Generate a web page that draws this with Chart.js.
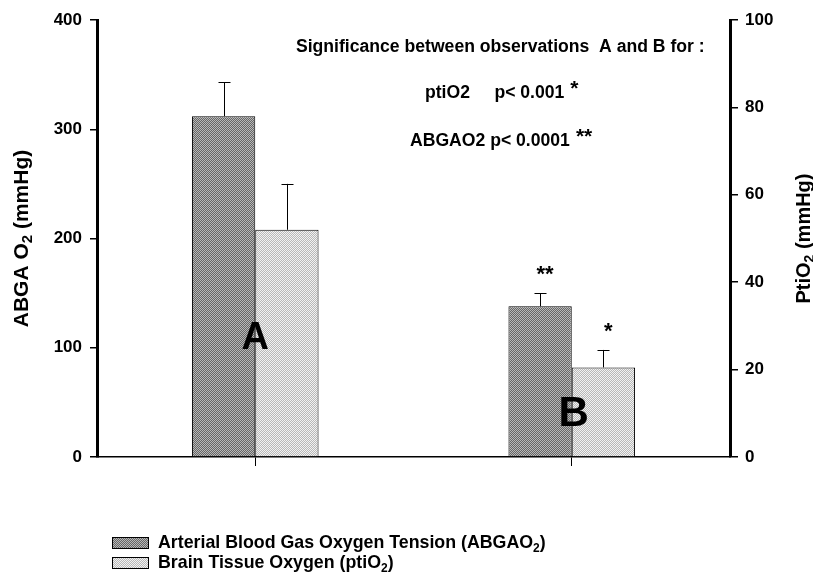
<!DOCTYPE html>
<html>
<head>
<meta charset="utf-8">
<script src="https://cdn.jsdelivr.net/npm/chart.js@4"></script>
<style>
  html, body { margin: 0; padding: 0; background: #fff; }
  #wrap { width: 813px; height: 580px; }
</style>
</head>
<body>
<div id="wrap"><canvas id="chart" width="813" height="580"></canvas></div>
<script>
const categories = ['A', 'B'];
const abgaValues = [312, 138];
const abgaErrors = [31, 12];
const ptiValues = [52, 20.5];
const ptiErrors = [10.5, 4];
const abgaStars = ['', '**'];
const ptiStars = ['', '*'];
const seriesLabels = ['Arterial Blood Gas Oxygen Tension (ABGAO₂)', 'Brain Tissue Oxygen (ptiO₂)'];
const leftTitle = 'ABGA O₂ (mmHg)';
const rightTitle = 'PtiO₂ (mmHg)';
const noteLines = ['Significance between observations  A and B for :', 'ptiO2     p< 0.001', 'ABGAO2 p< 0.0001'];
const noteStars = ['', '*', '**'];

const FONT = '"Liberation Sans", Arial, sans-serif';

function makePattern(c1, c2) {
    const cv = document.createElement('canvas');
    cv.width = 2; cv.height = 2;
    const g = cv.getContext('2d');
    g.fillStyle = c1; g.fillRect(0, 0, 2, 2);
    g.fillStyle = c2; g.fillRect(0, 0, 1, 1); g.fillRect(1, 1, 1, 1);
    return g.createPattern(cv, 'repeat');
}
const darkFill = makePattern('#666666', '#b8b8b8');
const lightFill = makePattern('#b8b8b8', '#f2f2f2');

// draws text where "₂" becomes a small lowered 2
function richText(ctx, str, x, y, size) {
    const parts = str.split('₂');
    let cx = x;
    parts.forEach((p, i) => {
        ctx.font = `bold ${size}px ${FONT}`;
        ctx.fillText(p, cx, y);
        cx += ctx.measureText(p).width;
        if (i < parts.length - 1) {
            ctx.font = `bold ${Math.round(size * 0.7)}px ${FONT}`;
            ctx.fillText('2', cx, y + size * 0.3);
            cx += ctx.measureText('2').width;
        }
    });
    return cx - x;
}
function richWidth(ctx, str, size) {
    const parts = str.split('₂');
    let w = 0;
    parts.forEach((p, i) => {
        ctx.font = `bold ${size}px ${FONT}`;
        w += ctx.measureText(p).width;
        if (i < parts.length - 1) { ctx.font = `bold ${Math.round(size * 0.7)}px ${FONT}`; w += ctx.measureText('2').width; }
    });
    return w;
}

const errorBars = {
    id: 'errorBars',
    afterDatasetsDraw(chart) {
        const ctx = chart.ctx;
        const errs = [abgaErrors, ptiErrors];
        const stars = [abgaStars, ptiStars];
        ctx.save();
        ctx.strokeStyle = '#000';
        ctx.lineWidth = 1;
        chart.data.datasets.forEach((ds, i) => {
            const meta = chart.getDatasetMeta(i);
            const sc = chart.scales[meta.yAxisID];
            meta.data.forEach((bar, j) => {
                const top = sc.getPixelForValue(ds.data[j] + errs[i][j]);
                const x = Math.round(bar.x) + 0.5;
                ctx.beginPath();
                ctx.moveTo(x, bar.y); ctx.lineTo(x, top);
                ctx.moveTo(x - 6, Math.round(top) + 0.5); ctx.lineTo(x + 6, Math.round(top) + 0.5);
                ctx.stroke();
                if (stars[i][j]) {
                    ctx.fillStyle = '#000';
                    ctx.font = `bold 22px ${FONT}`;
                    ctx.textAlign = 'center';
                    ctx.textBaseline = 'top';
                    ctx.fillText(stars[i][j], bar.x + 5, top - 29);
                }
            });
        });
        // big group letters
        const xs = chart.scales.x, ys = chart.scales.y;
        ctx.fillStyle = '#000';
        ctx.textAlign = 'center';
        ctx.textBaseline = 'middle';
        ctx.font = `bold 38px ${FONT}`;
        ctx.fillText(categories[0], xs.getPixelForValue(0), ys.getPixelForValue(108));
        ctx.font = `bold 42px ${FONT}`;
        ctx.fillText(categories[1], xs.getPixelForValue(1) + 2, ys.getPixelForValue(39));
        ctx.restore();
    },
    afterDraw(chart) {
        const ctx = chart.ctx;
        const a = chart.chartArea;
        ctx.save();
        ctx.fillStyle = '#000';
        ctx.textBaseline = 'middle';
        ctx.textAlign = 'left';
        // axis titles
        const midY = (a.top + a.bottom) / 2;
        ctx.save();
        ctx.translate(22, midY);
        ctx.rotate(-Math.PI / 2);
        richText(ctx, leftTitle, -richWidth(ctx, leftTitle, 21) / 2, 0, 21);
        ctx.restore();
        ctx.save();
        ctx.translate(804, midY);
        ctx.rotate(-Math.PI / 2);
        richText(ctx, rightTitle, -richWidth(ctx, rightTitle, 20) / 2, 0, 20);
        ctx.restore();
        // significance notes
        const noteX = [296, 425, 410];
        const noteY = [47, 93, 141];
        noteLines.forEach((t, i) => {
            ctx.font = `bold 17.6px ${FONT}`;
            ctx.fillText(t, noteX[i], noteY[i]);
            if (noteStars[i]) {
                const w = ctx.measureText(t).width;
                ctx.font = `bold 21px ${FONT}`;
                ctx.fillText(noteStars[i], noteX[i] + w + 6, noteY[i] - 4);
            }
        });
        // legend
        const lx = a.left + 15;
        chart.data.datasets.forEach((ds, i) => {
            const ly = a.bottom + 86 + i * 20;
            ctx.fillStyle = ds.backgroundColor;
            ctx.fillRect(lx, ly - 6, 37, 12);
            ctx.strokeStyle = '#000';
            ctx.lineWidth = 1;
            ctx.strokeRect(lx + 0.5, ly - 5.5, 36, 11);
            ctx.fillStyle = '#000';
            richText(ctx, seriesLabels[i], lx + 46, ly, 17.8);
        });
        ctx.restore();
    }
};

new Chart(document.getElementById('chart'), {
    type: 'bar',
    data: {
        labels: categories,
        datasets: [
            { label: seriesLabels[0], data: abgaValues, yAxisID: 'y', backgroundColor: darkFill, borderColor: '#000', borderWidth: 1, categoryPercentage: 0.4, barPercentage: 1 },
            { label: seriesLabels[1], data: ptiValues, yAxisID: 'y1', backgroundColor: lightFill, borderColor: '#000', borderWidth: 1, categoryPercentage: 0.4, barPercentage: 1 }
        ]
    },
    options: {
        responsive: false,
        animation: false,
        layout: { padding: { top: 20, left: 0, right: 0, bottom: 0 } },
        plugins: { legend: { display: false }, tooltip: { enabled: false } },
        scales: {
            x: {
                grid: { display: true, drawOnChartArea: false, offset: false, tickLength: 9, color: '#000' },
                border: { color: '#000', width: 1.5 },
                ticks: { display: false },
                afterFit: (s) => { s.height = 123; }
            },
            y: {
                position: 'left', min: 0, max: 400,
                ticks: { stepSize: 100, color: '#000', padding: 8, font: { family: FONT, size: 17, weight: 'bold' } },
                grid: { drawOnChartArea: false, tickLength: 7, color: '#000', lineWidth: 1.5 },
                border: { color: '#000', width: 3 },
                afterFit: (s) => { s.width = 97; }
            },
            y1: {
                position: 'right', min: 0, max: 100,
                ticks: { stepSize: 20, color: '#000', padding: 7, font: { family: FONT, size: 17, weight: 'bold' } },
                grid: { drawOnChartArea: false, tickLength: 8, color: '#000', lineWidth: 1.5 },
                border: { color: '#000', width: 3 },
                afterFit: (s) => { s.width = 83; }
            }
        }
    },
    plugins: [errorBars]
});
</script>
</body>
</html>
